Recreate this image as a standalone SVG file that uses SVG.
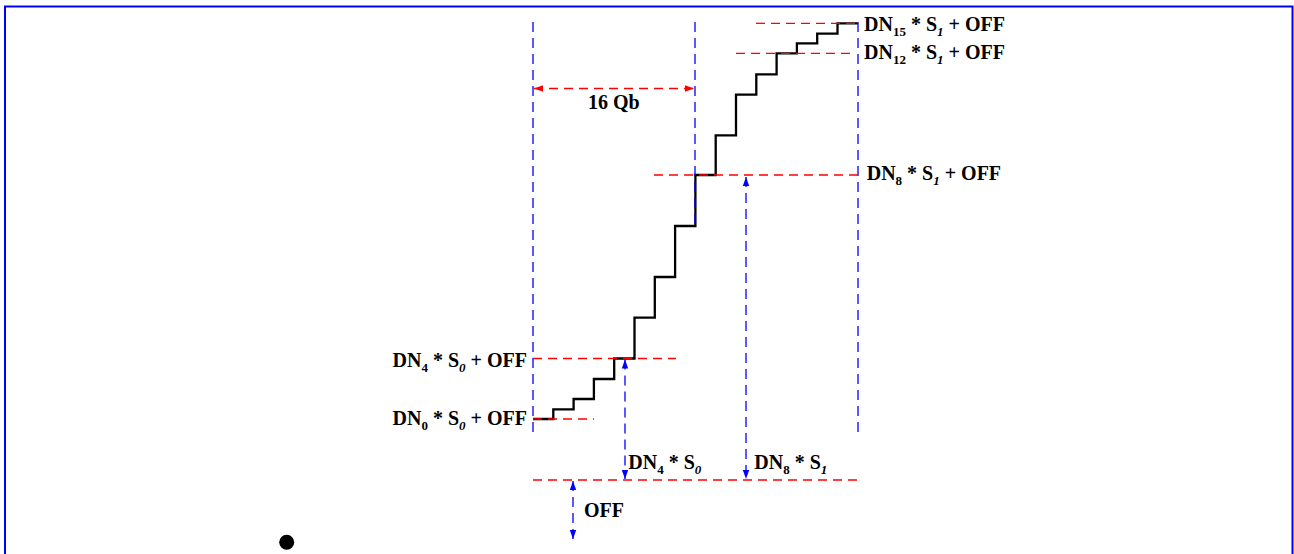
<svg xmlns="http://www.w3.org/2000/svg" width="1294" height="554" viewBox="0 0 1294 554">
<style>
text{font-family:"Liberation Serif","Times New Roman",serif;font-weight:bold;font-size:20px;fill:#000}
.sub{font-size:13px}
.it{font-style:italic}
.red{stroke:#ff0000;stroke-width:1.3;stroke-dasharray:9 6;fill:none}
.blue{stroke:#0000ff;stroke-width:1.3;stroke-dasharray:10 6;fill:none}
.stair{stroke:#000;stroke-width:2.3;fill:none}
</style>
<defs>
<marker id="ar" markerWidth="9" markerHeight="8" refX="9" refY="4" orient="auto-start-reverse" markerUnits="userSpaceOnUse"><path d="M0,0.8 L9,4 L0,7.2 Z" fill="#ff0000"/></marker>
<marker id="ab" markerWidth="9" markerHeight="8" refX="9" refY="4" orient="auto-start-reverse" markerUnits="userSpaceOnUse"><path d="M0,0.8 L9,4 L0,7.2 Z" fill="#0000ff"/></marker>
</defs>
<rect id="frame" x="5" y="6.5" width="1287.5" height="600" fill="none" stroke="#0000ff" stroke-width="2"/>
<g id="staircase">
<path class="stair" d="M533,419 H553.3 V409.3 H573.6 V399 H593.9 V379 H614.2 V358.5 H634.5 V317.7 H654.8 V277 H675.1 V226 H695.4 V175 H715.7 V135.3 H736 V94.7 H756.3 V74.3 H776.6 V53.3 H796.9 V43.3 H817.2 V33.7 H837.5 V23.3 H857.8"/>
</g>
<g id="connectors">
<line class="blue" x1="533" y1="22" x2="533" y2="438"/>
<line class="blue" x1="695" y1="22" x2="695" y2="226"/>
<line class="blue" x1="858" y1="22" x2="858" y2="438"/>
<line class="red" x1="756" y1="23.3" x2="858" y2="23.3"/>
<line class="red" x1="736" y1="53.3" x2="853" y2="53.3"/>
<line class="red" x1="654" y1="175" x2="858" y2="175"/>
<line class="red" x1="533" y1="358.5" x2="676" y2="358.5"/>
<line class="red" x1="533" y1="419" x2="594" y2="419"/>
<line class="red" x1="533" y1="480" x2="858" y2="480"/>
<line class="red" x1="534" y1="88.5" x2="694" y2="88.5" marker-start="url(#ar)" marker-end="url(#ar)"/>
<line class="blue" x1="746" y1="177" x2="746" y2="479" marker-start="url(#ab)" marker-end="url(#ab)"/>
<line class="blue" x1="625" y1="359.5" x2="625" y2="479" marker-start="url(#ab)" marker-end="url(#ab)"/>
<line class="blue" x1="573" y1="481" x2="573" y2="539" marker-start="url(#ab)" marker-end="url(#ab)"/>
</g>
<g id="label-dn15"><text x="864" y="30.7">DN<tspan class="sub" dy="5">15</tspan><tspan dy="-5"> * S</tspan><tspan class="sub it" dy="5">1</tspan><tspan dy="-5"> + OFF</tspan></text></g>
<g id="label-dn12"><text x="864" y="58.5">DN<tspan class="sub" dy="5">12</tspan><tspan dy="-5"> * S</tspan><tspan class="sub it" dy="5">1</tspan><tspan dy="-5"> + OFF</tspan></text></g>
<g id="label-dn8"><text x="866.7" y="179.5">DN<tspan class="sub" dy="5">8</tspan><tspan dy="-5"> * S</tspan><tspan class="sub it" dy="5">1</tspan><tspan dy="-5"> + OFF</tspan></text></g>
<g id="label-16qb"><text x="588" y="109.3">16 Qb</text></g>
<g id="label-dn4off"><text x="527" y="366.7" text-anchor="end">DN<tspan class="sub" dy="5">4</tspan><tspan dy="-5"> * S</tspan><tspan class="sub it" dy="5">0</tspan><tspan dy="-5"> + OFF</tspan></text></g>
<g id="label-dn0off"><text x="527" y="425" text-anchor="end">DN<tspan class="sub" dy="5">0</tspan><tspan dy="-5"> * S</tspan><tspan class="sub it" dy="5">0</tspan><tspan dy="-5"> + OFF</tspan></text></g>
<g id="label-dn4s0"><text x="628.3" y="469.3">DN<tspan class="sub" dy="5">4</tspan><tspan dy="-5"> * S</tspan><tspan class="sub it" dy="5">0</tspan></text></g>
<g id="label-dn8s1"><text x="754.3" y="469.3">DN<tspan class="sub" dy="5">8</tspan><tspan dy="-5"> * S</tspan><tspan class="sub it" dy="5">1</tspan></text></g>
<g id="label-off"><text x="584" y="516.7">OFF</text></g>
<circle id="dot" cx="286.7" cy="542.3" r="7.5" fill="#000"/>
</svg>
